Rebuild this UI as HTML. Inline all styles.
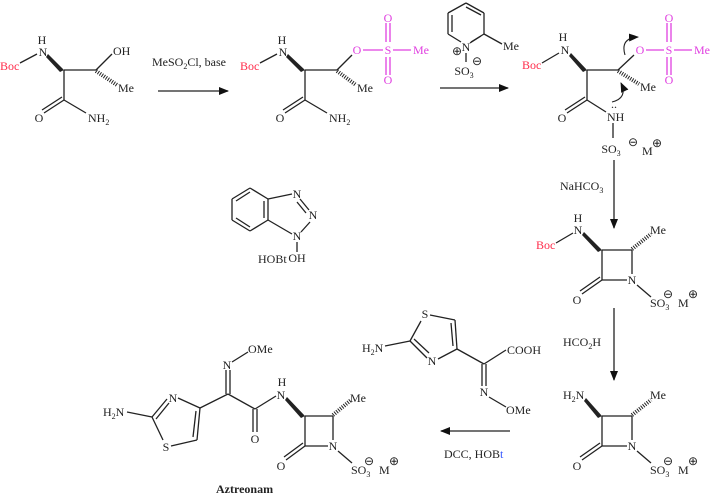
<!DOCTYPE html>
<html><head><meta charset="utf-8"><style>
html,body{margin:0;padding:0;background:#fff}
svg{display:block}
text{font-family:"Liberation Serif",serif;font-size:12px;fill:#222}
.r{fill:#ff2b4a}.m{fill:#e040e0}.b{fill:#3355ff}
line,polyline,path{stroke:#222;stroke-width:1.3;fill:none}
.mg{stroke:#e040e0}
.h{stroke-width:4;stroke-dasharray:1 1.4}
polygon{fill:#222}
</style></head><body>
<svg width="712" height="497" viewBox="0 0 712 497" xmlns="http://www.w3.org/2000/svg">
<defs><marker id="a" markerWidth="10" markerHeight="8" refX="9" refY="4" orient="auto" markerUnits="userSpaceOnUse"><path d="M0,0 L10,4 L0,8 Z" style="fill:#111;stroke:none"/></marker></defs>

<!-- Molecule 1 -->
<text x="42" y="44" text-anchor="middle">H</text><text x="43" y="56" text-anchor="middle">N</text>
<text x="0" y="70" class="r">Boc</text>
<line x1="20" y1="63" x2="37" y2="54"/>
<polygon points="48,54 64,70 60,72 46,57"/>
<line x1="64" y1="70" x2="96" y2="70"/>
<line x1="96" y1="70" x2="112" y2="54"/>
<text x="113" y="55">OH</text>
<line class="h" x1="96" y1="71" x2="117" y2="85"/>
<text x="118" y="92">Me</text>
<line x1="64" y1="70" x2="64" y2="100"/>
<line x1="64" y1="100" x2="44" y2="113"/><line x1="62" y1="97" x2="42" y2="110"/>
<text x="39" y="122" text-anchor="middle">O</text>
<line x1="64" y1="100" x2="86" y2="113"/>
<text x="88" y="122">NH<tspan dy="3" font-size="8">2</tspan></text>

<line x1="158" y1="91" x2="228" y2="91" marker-end="url(#a)"/>
<text x="152" y="66">MeSO<tspan dy="3" font-size="8">2</tspan><tspan dy="-3">Cl, base</tspan></text>

<!-- Molecule 2 -->
<text x="282" y="44" text-anchor="middle">H</text><text x="283" y="56" text-anchor="middle">N</text>
<text x="240" y="70" class="r">Boc</text>
<line x1="260" y1="63" x2="277" y2="54"/>
<polygon points="288,54 305,70 301,72 286,57"/>
<line x1="305" y1="70" x2="337" y2="70"/>
<line x1="337" y1="70" x2="352" y2="55"/>
<text x="357" y="54" class="m" text-anchor="middle">O</text>
<line class="mg" x1="363" y1="50" x2="383" y2="50"/>
<text x="388" y="54" class="m" text-anchor="middle">S</text>
<line class="mg" x1="393" y1="50" x2="411" y2="50"/>
<text x="413" y="54" class="m">Me</text>
<line class="mg" x1="386" y1="23" x2="386" y2="42"/><line class="mg" x1="390" y1="23" x2="390" y2="42"/>
<text x="388" y="22" class="m" text-anchor="middle">O</text>
<line class="mg" x1="386" y1="57" x2="386" y2="75"/><line class="mg" x1="390" y1="57" x2="390" y2="75"/>
<text x="388" y="84" class="m" text-anchor="middle">O</text>
<line class="h" x1="337" y1="71" x2="356" y2="85"/>
<text x="357" y="92">Me</text>
<line x1="305" y1="70" x2="305" y2="100"/>
<line x1="305" y1="100" x2="285" y2="113"/><line x1="303" y1="97" x2="283" y2="110"/>
<text x="280" y="122" text-anchor="middle">O</text>
<line x1="305" y1="100" x2="327" y2="113"/>
<text x="329" y="122">NH<tspan dy="3" font-size="8">2</tspan></text>

<!-- pyridine reagent -->
<line x1="440" y1="88" x2="508" y2="88" marker-end="url(#a)"/>
<line x1="448" y1="13" x2="466" y2="3"/><line x1="466" y1="3" x2="484" y2="13"/><line x1="484" y1="13" x2="484" y2="34"/>
<line x1="484" y1="34" x2="471" y2="42"/><line x1="461" y1="42" x2="448" y2="34"/><line x1="448" y1="34" x2="448" y2="13"/>
<line x1="452" y1="15" x2="452" y2="32"/><line x1="466" y1="7" x2="481" y2="15"/><line x1="481" y1="36" x2="470" y2="43"/>
<line x1="484" y1="34" x2="502" y2="44"/>
<text x="503" y="50">Me</text>
<text x="466" y="51" text-anchor="middle">N</text>
<text x="457" y="55" text-anchor="middle" font-size="10">⊕</text>
<line x1="466" y1="53" x2="466" y2="62"/>
<text x="464" y="75" text-anchor="middle">SO<tspan dy="3" font-size="8">3</tspan></text>
<text x="477" y="65" text-anchor="middle" font-size="10">⊖</text>

<!-- Molecule 3 -->
<text x="563" y="41" text-anchor="middle">H</text><text x="565" y="54" text-anchor="middle">N</text>
<text x="522" y="69" class="r">Boc</text>
<line x1="542" y1="63" x2="559" y2="53"/>
<polygon points="571,53 587,70 583,72 569,56"/>
<line x1="587" y1="70" x2="618" y2="70"/>
<line x1="618" y1="70" x2="634" y2="55"/>
<text x="640" y="54" class="m" text-anchor="middle">O</text>
<line class="mg" x1="646" y1="50" x2="664" y2="50"/>
<text x="669" y="54" class="m" text-anchor="middle">S</text>
<line class="mg" x1="674" y1="50" x2="692" y2="50"/>
<text x="694" y="54" class="m">Me</text>
<line class="mg" x1="667" y1="23" x2="667" y2="42"/><line class="mg" x1="671" y1="23" x2="671" y2="42"/>
<text x="669" y="22" class="m" text-anchor="middle">O</text>
<line class="mg" x1="667" y1="57" x2="667" y2="75"/><line class="mg" x1="671" y1="57" x2="671" y2="75"/>
<text x="669" y="84" class="m" text-anchor="middle">O</text>
<path d="M625,55 Q620,38 638,37" marker-end="url(#a)" style="stroke-width:1.1"/>
<line class="h" x1="618" y1="71" x2="639" y2="84"/>
<text x="640" y="91">Me</text>
<path d="M612,102 Q628,98 621,83" marker-end="url(#a)" style="stroke-width:1.1"/>
<line x1="587" y1="70" x2="587" y2="100"/>
<line x1="587" y1="100" x2="567" y2="113"/><line x1="585" y1="97" x2="565" y2="110"/>
<text x="562" y="122" text-anchor="middle">O</text>
<line x1="587" y1="100" x2="606" y2="112"/>
<text x="607" y="121">NH</text>
<text x="611" y="108" font-size="9">..</text>
<line x1="613" y1="123" x2="613" y2="138"/>
<text x="611" y="153" text-anchor="middle">SO<tspan dy="3" font-size="8">3</tspan></text>
<text x="628" y="146" font-size="11">⊖</text>
<text x="642" y="155">M</text><text x="652" y="147" font-size="11">⊕</text>

<line x1="614" y1="160" x2="614" y2="228" marker-end="url(#a)"/>
<text x="560" y="190">NaHCO<tspan dy="3" font-size="8">3</tspan></text>

<!-- Molecule 4 -->
<text x="578" y="222" text-anchor="middle">H</text><text x="578" y="234" text-anchor="middle">N</text>
<text x="536" y="249" class="r">Boc</text>
<line x1="556" y1="243" x2="573" y2="233"/>
<polygon points="584,232 602,250 598,252 582,235"/>
<line x1="602" y1="250" x2="632" y2="250"/>
<line class="h" x1="632" y1="249" x2="651" y2="234"/>
<text x="650" y="234">Me</text>
<line x1="602" y1="250" x2="602" y2="280"/>
<line x1="632" y1="250" x2="632" y2="274"/>
<line x1="602" y1="280" x2="627" y2="280"/>
<text x="632" y="284" text-anchor="middle">N</text>
<line x1="602" y1="280" x2="582" y2="294"/><line x1="600" y1="277" x2="580" y2="291"/>
<text x="577" y="304" text-anchor="middle">O</text>
<line x1="637" y1="285" x2="651" y2="297"/>
<text x="650" y="307">SO<tspan dy="3" font-size="8">3</tspan></text>
<text x="663" y="298" font-size="11">⊖</text>
<text x="678" y="307">M</text><text x="688" y="298" font-size="11">⊕</text>

<line x1="614" y1="308" x2="614" y2="380" marker-end="url(#a)"/>
<text x="563" y="346">HCO<tspan dy="3" font-size="8">2</tspan><tspan dy="-3">H</tspan></text>

<!-- Molecule 5 -->
<text x="563" y="399">H<tspan dy="3" font-size="8">2</tspan><tspan dy="-3">N</tspan></text>
<polygon points="586,398 602,416 598,418 584,401"/>
<line x1="602" y1="416" x2="632" y2="416"/>
<line class="h" x1="632" y1="415" x2="651" y2="400"/>
<text x="650" y="399">Me</text>
<line x1="602" y1="416" x2="602" y2="446"/>
<line x1="632" y1="416" x2="632" y2="440"/>
<line x1="602" y1="446" x2="627" y2="446"/>
<text x="632" y="450" text-anchor="middle">N</text>
<line x1="602" y1="446" x2="582" y2="460"/><line x1="600" y1="443" x2="580" y2="457"/>
<text x="577" y="470" text-anchor="middle">O</text>
<line x1="637" y1="451" x2="651" y2="463"/>
<text x="650" y="474">SO<tspan dy="3" font-size="8">3</tspan></text>
<text x="663" y="465" font-size="11">⊖</text>
<text x="678" y="474">M</text><text x="688" y="465" font-size="11">⊕</text>

<!-- thiazole acid -->
<text x="425" y="318" text-anchor="middle">S</text>
<line x1="430" y1="315" x2="455" y2="320"/>
<line x1="455" y1="320" x2="457" y2="349"/><line x1="451" y1="323" x2="453" y2="346"/>
<line x1="457" y1="349" x2="438" y2="359"/>
<text x="432" y="365" text-anchor="middle">N</text>
<line x1="427" y1="358" x2="410" y2="341"/><line x1="429" y1="353" x2="414" y2="339"/>
<line x1="410" y1="341" x2="421" y2="321"/>
<line x1="410" y1="341" x2="385" y2="346"/>
<text x="362" y="352">H<tspan dy="3" font-size="8">2</tspan><tspan dy="-3">N</tspan></text>
<line x1="457" y1="349" x2="484" y2="364"/>
<line x1="484" y1="364" x2="506" y2="350"/>
<text x="507" y="354">COOH</text>
<line x1="482" y1="364" x2="482" y2="386"/><line x1="486" y1="364" x2="486" y2="386"/>
<text x="484" y="396" text-anchor="middle">N</text>
<line x1="489" y1="397" x2="506" y2="407"/>
<text x="506" y="414">OMe</text>

<line x1="510" y1="431" x2="441" y2="431" marker-end="url(#a)"/>
<text x="444" y="458">DCC, HOB<tspan class="b">t</tspan></text>

<!-- HOBt -->
<line x1="250" y1="188" x2="232" y2="199"/><line x1="232" y1="199" x2="232" y2="220"/><line x1="232" y1="220" x2="250" y2="231"/>
<line x1="250" y1="231" x2="268" y2="220"/><line x1="268" y1="220" x2="268" y2="199"/><line x1="268" y1="199" x2="250" y2="188"/>
<line x1="250" y1="192" x2="236" y2="201"/><line x1="236" y1="218" x2="250" y2="227"/>
<line x1="264" y1="201" x2="264" y2="218"/>
<line x1="268" y1="199" x2="292" y2="194"/>
<text x="297" y="198" text-anchor="middle">N</text>
<line x1="300" y1="199" x2="309" y2="210"/><line x1="297" y1="202" x2="306" y2="213"/>
<text x="313" y="219" text-anchor="middle">N</text>
<line x1="310" y1="222" x2="301" y2="232"/>
<text x="297" y="240" text-anchor="middle">N</text>
<line x1="268" y1="220" x2="292" y2="234"/>
<line x1="297" y1="242" x2="297" y2="252"/>
<text x="297" y="262" text-anchor="middle">OH</text>
<text x="258" y="263">HOBt</text>

<!-- Aztreonam -->
<text x="103" y="416">H<tspan dy="3" font-size="8">2</tspan><tspan dy="-3">N</tspan></text>
<line x1="127" y1="412" x2="152" y2="417"/>
<line x1="152" y1="417" x2="167" y2="399"/><line x1="156" y1="419" x2="169" y2="403"/>
<text x="173" y="402" text-anchor="middle">N</text>
<line x1="178" y1="398" x2="200" y2="408"/>
<line x1="200" y1="408" x2="197" y2="440"/><line x1="196" y1="411" x2="193" y2="437"/>
<line x1="197" y1="440" x2="171" y2="446"/>
<text x="166" y="451" text-anchor="middle">S</text>
<line x1="163" y1="440" x2="152" y2="417"/>
<line x1="200" y1="408" x2="228" y2="394"/>
<line x1="226" y1="394" x2="226" y2="370"/><line x1="230" y1="394" x2="230" y2="370"/>
<text x="227" y="369" text-anchor="middle">N</text>
<line x1="232" y1="362" x2="248" y2="352"/>
<text x="248" y="353">OMe</text>
<line x1="228" y1="394" x2="255" y2="409"/>
<line x1="253" y1="409" x2="253" y2="432"/><line x1="257" y1="409" x2="257" y2="432"/>
<text x="255" y="443" text-anchor="middle">O</text>
<line x1="255" y1="409" x2="276" y2="396"/>
<text x="282" y="386" text-anchor="middle">H</text><text x="281" y="399" text-anchor="middle">N</text>
<polygon points="287,397 305,416 301,418 285,400"/>
<line x1="305" y1="416" x2="333" y2="416"/>
<line class="h" x1="333" y1="415" x2="351" y2="400"/>
<text x="350" y="402">Me</text>
<line x1="305" y1="416" x2="305" y2="446"/>
<line x1="333" y1="416" x2="333" y2="440"/>
<line x1="305" y1="446" x2="328" y2="446"/>
<text x="333" y="450" text-anchor="middle">N</text>
<line x1="305" y1="446" x2="286" y2="460"/><line x1="303" y1="443" x2="284" y2="457"/>
<text x="281" y="470" text-anchor="middle">O</text>
<line x1="338" y1="451" x2="352" y2="463"/>
<text x="351" y="474">SO<tspan dy="3" font-size="8">3</tspan></text>
<text x="364" y="465" font-size="11">⊖</text>
<text x="379" y="474">M</text><text x="389" y="465" font-size="11">⊕</text>
<text x="216" y="493" font-weight="bold">Aztreonam</text>
</svg>
</body></html>
